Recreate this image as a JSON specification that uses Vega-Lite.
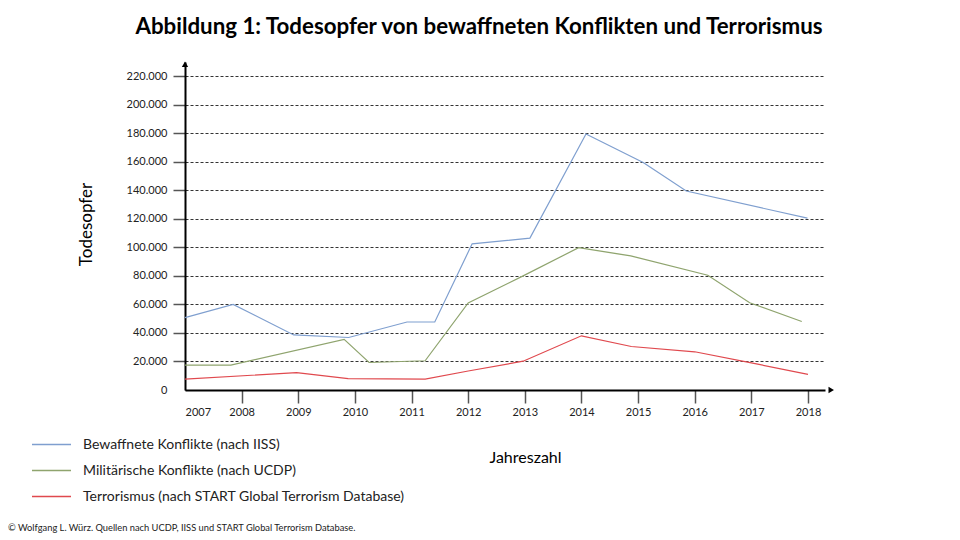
{
  "$schema": "https://vega.github.io/schema/vega-lite/v6.json",
  "width": 640,
  "height": 328,
  "autosize": {"type": "none"},
  "padding": {"left": 185, "top": 62, "right": 135, "bottom": 150},
  "background": "white",
  "title": {
    "text": "Abbildung 1: Todesopfer von bewaffneten Konflikten und Terrorismus",
    "font": "Lato",
    "fontSize": 22.3,
    "fontWeight": "bold",
    "color": "#000000",
    "anchor": "middle",
    "dx": -26,
    "offset": 23
  },
  "config": {
    "font": "Lato",
    "view": {"stroke": null},
    "locale": {
      "number": {"decimal": ",", "thousands": ".", "grouping": [3], "currency": ["", " €"]}
    }
  },
  "datasets": {
    "reihen": [
      {"jahr": 2007.0, "wert": 50700, "reihe": "Bewaffnete  Konflikte (nach IISS)"},
      {"jahr": 2007.85, "wert": 60000, "reihe": "Bewaffnete  Konflikte (nach IISS)"},
      {"jahr": 2008.92, "wert": 38600, "reihe": "Bewaffnete  Konflikte (nach IISS)"},
      {"jahr": 2009.89, "wert": 36800, "reihe": "Bewaffnete  Konflikte (nach IISS)"},
      {"jahr": 2010.92, "wert": 47700, "reihe": "Bewaffnete  Konflikte (nach IISS)"},
      {"jahr": 2011.41, "wert": 47700, "reihe": "Bewaffnete  Konflikte (nach IISS)"},
      {"jahr": 2012.07, "wert": 102500, "reihe": "Bewaffnete  Konflikte (nach IISS)"},
      {"jahr": 2013.09, "wert": 106500, "reihe": "Bewaffnete  Konflikte (nach IISS)"},
      {"jahr": 2014.08, "wert": 179500, "reihe": "Bewaffnete  Konflikte (nach IISS)"},
      {"jahr": 2015.09, "wert": 159500, "reihe": "Bewaffnete  Konflikte (nach IISS)"},
      {"jahr": 2015.85, "wert": 139500, "reihe": "Bewaffnete  Konflikte (nach IISS)"},
      {"jahr": 2017.99, "wert": 120500, "reihe": "Bewaffnete  Konflikte (nach IISS)"},
      {"jahr": 2007.0, "wert": 17500, "reihe": "Militärische Konflikte (nach UCDP)"},
      {"jahr": 2007.81, "wert": 17500, "reihe": "Militärische Konflikte (nach UCDP)"},
      {"jahr": 2009.81, "wert": 35500, "reihe": "Militärische Konflikte (nach UCDP)"},
      {"jahr": 2010.25, "wert": 19300, "reihe": "Militärische Konflikte (nach UCDP)"},
      {"jahr": 2011.24, "wert": 20500, "reihe": "Militärische Konflikte (nach UCDP)"},
      {"jahr": 2012.0, "wert": 61000, "reihe": "Militärische Konflikte (nach UCDP)"},
      {"jahr": 2012.97, "wert": 80000, "reihe": "Militärische Konflikte (nach UCDP)"},
      {"jahr": 2013.95, "wert": 99800, "reihe": "Militärische Konflikte (nach UCDP)"},
      {"jahr": 2014.87, "wert": 94000, "reihe": "Militärische Konflikte (nach UCDP)"},
      {"jahr": 2016.23, "wert": 80500, "reihe": "Militärische Konflikte (nach UCDP)"},
      {"jahr": 2016.97, "wert": 61200, "reihe": "Militärische Konflikte (nach UCDP)"},
      {"jahr": 2017.89, "wert": 48000, "reihe": "Militärische Konflikte (nach UCDP)"},
      {"jahr": 2007.0, "wert": 7600, "reihe": "Terrorismus  (nach START Global Terrorism Database)"},
      {"jahr": 2008.97, "wert": 12200, "reihe": "Terrorismus  (nach START Global Terrorism Database)"},
      {"jahr": 2009.88, "wert": 8000, "reihe": "Terrorismus  (nach START Global Terrorism Database)"},
      {"jahr": 2011.24, "wert": 7600, "reihe": "Terrorismus  (nach START Global Terrorism Database)"},
      {"jahr": 2012.0, "wert": 13300, "reihe": "Terrorismus  (nach START Global Terrorism Database)"},
      {"jahr": 2012.97, "wert": 20200, "reihe": "Terrorismus  (nach START Global Terrorism Database)"},
      {"jahr": 2014.0, "wert": 38000, "reihe": "Terrorismus  (nach START Global Terrorism Database)"},
      {"jahr": 2014.88, "wert": 30500, "reihe": "Terrorismus  (nach START Global Terrorism Database)"},
      {"jahr": 2016.0, "wert": 26800, "reihe": "Terrorismus  (nach START Global Terrorism Database)"},
      {"jahr": 2017.0, "wert": 19000, "reihe": "Terrorismus  (nach START Global Terrorism Database)"},
      {"jahr": 2018.0, "wert": 11000, "reihe": "Terrorismus  (nach START Global Terrorism Database)"}
    ],
    "pfeile": [
      {"jahr": 2007.0, "wert": 228500, "form": "triangle-up"},
      {"jahr": 2018.41, "wert": 0, "form": "triangle-right"}
    ]
  },
  "layer": [
    {
      "data": {"name": "reihen"},
      "mark": {"type": "line", "strokeWidth": 1.2},
      "encoding": {
        "x": {
          "field": "jahr",
          "type": "quantitative",
          "scale": {"domain": [2007, 2018.3], "nice": false, "zero": false},
          "axis": {
            "values": [2007, 2008, 2009, 2010, 2011, 2012, 2013, 2014, 2015, 2016, 2017, 2018],
            "tickCount": 12,
            "format": "d",
            "title": "Jahreszahl",
            "grid": false,
            "labelOverlap": false,
            "domainColor": "#000000",
            "domainWidth": 2,
            "tickColor": "#555555",
            "tickWidth": 1.5,
            "tickSize": 13,
            "tickOpacity": {"condition": {"test": "datum.value == 2007", "value": 0}, "value": 1},
            "labelFontSize": 11,
            "labelColor": "#222222",
            "labelPadding": 3,
            "titleFontSize": 16,
            "titleFontWeight": "normal",
            "titleColor": "#000000",
            "titleX": 340,
            "titleY": 67,
            "titleBaseline": "middle",
            "titleAlign": "center"
          }
        },
        "y": {
          "field": "wert",
          "type": "quantitative",
          "scale": {"domain": [0, 230000], "nice": false},
          "axis": {
            "values": [0, 20000, 40000, 60000, 80000, 100000, 120000, 140000, 160000, 180000, 200000, 220000],
            "tickCount": 12,
            "format": ",.0f",
            "title": "Todesopfer",
            "labelOverlap": false,
            "grid": true,
            "gridDash": [3, 2],
            "gridColor": "#333333",
            "gridWidth": 1,
            "domainColor": "#000000",
            "domainWidth": 2,
            "tickColor": "#555555",
            "tickWidth": 1.5,
            "tickSize": 12,
            "tickOpacity": {"condition": {"test": "datum.value == 0", "value": 0}, "value": 1},
            "labelFontSize": 11,
            "labelColor": "#222222",
            "labelPadding": 6,
            "titleFontSize": 17,
            "titleFontWeight": "normal",
            "titleColor": "#000000",
            "titleAngle": 270,
            "titleX": -99,
            "titleY": 162,
            "titleBaseline": "middle",
            "titleAlign": "center"
          }
        },
        "color": {
          "field": "reihe",
          "type": "nominal",
          "scale": {
            "domain": ["Bewaffnete  Konflikte (nach IISS)", "Militärische Konflikte (nach UCDP)", "Terrorismus  (nach START Global Terrorism Database)"],
            "range": ["#7F9FCF", "#8FA46E", "#E0494E"]
          },
          "legend": {
            "orient": "none",
            "legendX": -177,
            "legendY": 375,
            "title": "© Wolfgang L. Würz. Quellen nach UCDP, IISS und START  Global Terrorism Database.",
            "titleOrient": "bottom",
            "titleFontSize": 9.3,
            "titleFontWeight": "normal",
            "titleColor": "#222222",
            "titlePadding": 20,
            "titleLimit": 600,
            "symbolType": "M-3,0H3",
            "symbolSize": 169,
            "symbolStrokeWidth": 1.3,
            "symbolOffset": 36,
            "labelOffset": 24,
            "labelFontSize": 14,
            "labelColor": "#222222",
            "labelLimit": 600,
            "rowPadding": 11
          }
        }
      }
    },
    {
      "data": {"name": "pfeile"},
      "mark": {"type": "point", "filled": true, "color": "#000000", "size": 40, "opacity": 1},
      "encoding": {
        "x": {"field": "jahr", "type": "quantitative"},
        "y": {"field": "wert", "type": "quantitative"},
        "shape": {"field": "form", "type": "nominal", "scale": null, "legend": null}
      }
    }
  ]
}
